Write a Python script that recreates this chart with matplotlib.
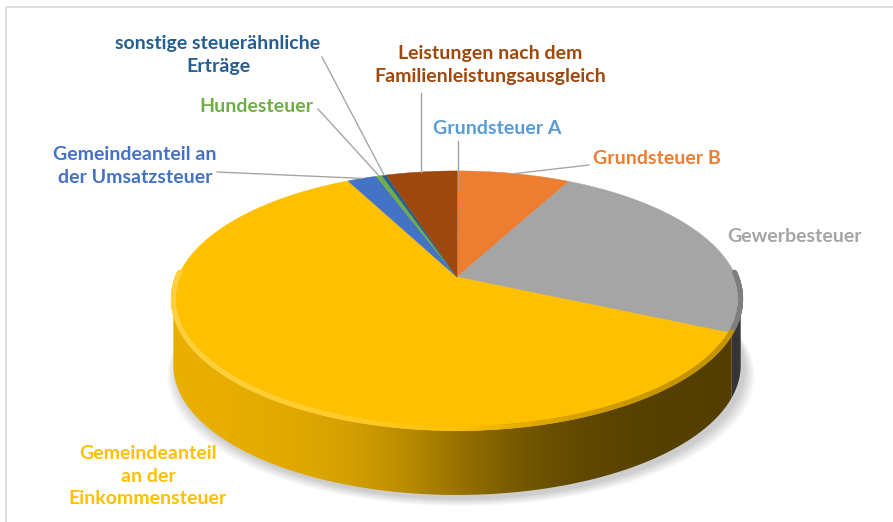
import numpy as np
import matplotlib.pyplot as plt
from matplotlib.patches import Polygon, Rectangle
from matplotlib.collections import LineCollection
from matplotlib.colors import to_rgb

# Data (shares in percent, clockwise from 12 o'clock)
labels = ["Grundsteuer A", "Grundsteuer B", "Gewerbesteuer",
          "Gemeindeanteil\nan der\nEinkommensteuer",
          "Gemeindeanteil an\nder Umsatzsteuer", "Hundesteuer",
          "sonstige steuerähnliche\nErträge",
          "Leistungen nach dem\nFamilienleistungsausgleich"]
shares = [0.1, 7.6, 24.1, 60.7, 2.0, 0.4, 0.3, 4.8]
colors = ["#5B9BD5", "#ED7D31", "#A5A5A5", "#FFC000",
          "#4472C4", "#70AD47", "#255E91", "#9E480E"]

# label placement (pixel coords) and leader line start (None = no leader)
label_pos = [(497, 129), (657, 159), (795, 237), (148, 476),
             (135, 166), (256, 106), (218, 55), (490, 65)]
leader_start = [(None, 141), (589, 165), None, None,
                (217, 172), (318, 109), (322, 57), (None, 93)]

# pie geometry (simple perspective view)
cx, cy = 457, 277
R, tilt, persp, depth = 279, 0.449, 0.181, 65


def proj(theta_deg, dz=0.0):
    t = np.radians(theta_deg)
    u, v = np.sin(t), np.cos(t)
    w = 1.0 / (1.0 + persp * v)
    return cx + R * u * w, cy - R * tilt * v * w + dz


def shade(x):
    return 0.62 - 0.30 * np.tanh((x - 450) / 120.0)


edges = np.concatenate([[0], np.cumsum(shares)]) / sum(shares) * 360
sil = np.degrees(np.arccos(-persp))  # silhouette angle

fig = plt.figure(figsize=(8.93, 5.22), dpi=100)
ax = fig.add_axes([0, 0, 1, 1])
ax.set_xlim(0, 893)
ax.set_ylim(522, 0)
ax.axis("off")

# chart border
ax.add_patch(Rectangle((6, 7), 900, 530, fill=False, ec="#D9D9D9", lw=1.2))

# soft shadow
tt = np.linspace(0, 360, 400)
for k in range(10):
    sx, sy = proj(tt, depth + 4)
    sx = cx + (sx - cx) * (1 + 0.004 * k) + 4
    sy = sy + 0.8 * k
    ax.add_patch(Polygon(np.column_stack([sx, sy]), closed=True,
                         fc="#000000", ec="none", alpha=0.018, zorder=1))

# side wall: gradient image clipped to each wedge's visible side
xgrid = np.arange(0, 894)
for a0, a1, col in zip(edges[:-1], edges[1:], colors):
    lo, hi = max(a0, sil), min(a1, 360 - sil)
    if hi <= lo:
        continue
    ts = np.linspace(lo, hi, max(2, int((hi - lo) * 3)))
    xs, ys = proj(ts)
    pts = np.vstack([np.column_stack([xs, ys]),
                     np.column_stack([xs[::-1], ys[::-1] + depth])])
    patch = Polygon(pts, closed=True, fc="none", ec="none")
    ax.add_patch(patch)
    base = np.array(to_rgb(col))
    row = np.clip(base[None, :] * shade(xgrid)[:, None], 0, 1)
    img = np.repeat(row[None, :, :], 2, axis=0)
    im = ax.imshow(img, extent=(0, 893, 522, 0), aspect="auto",
                   interpolation="bilinear", zorder=2)
    im.set_clip_path(patch)

# top face
for a0, a1, col in zip(edges[:-1], edges[1:], colors):
    ts = np.linspace(a0, a1, max(2, int((a1 - a0) * 2)))
    xs, ys = proj(ts)
    pts = np.vstack([[cx, cy], np.column_stack([xs, ys])])
    ax.add_patch(Polygon(pts, closed=True, fc=col, ec=col, lw=0.3, zorder=3))

# rim bevel on the front edge
segs, scols = [], []
for a0, a1, col in zip(edges[:-1], edges[1:], colors):
    lo, hi = max(a0, sil - 12), min(a1, 360 - sil + 12)
    if hi <= lo:
        continue
    ts = np.linspace(lo, hi, max(2, int((hi - lo) * 4)))
    base = np.array(to_rgb(col))
    for t0, t1 in zip(ts[:-1], ts[1:]):
        x0, y0 = proj(t0, -1.5)
        x1, y1 = proj(t1, -1.5)
        xm = (x0 + x1) / 2
        f = np.tanh((xm - 457) / 150.0)
        c = base * (1 - 0.25 * max(f, 0)) + (1 - base) * 0.25 * max(-f, 0)
        segs.append([(x0, y0), (x1, y1)])
        scols.append(np.clip(c, 0, 1))
ax.add_collection(LineCollection(segs, colors=scols, linewidths=3.5,
                                 capstyle="round", zorder=4))

# labels and leader lines
for i, (lab, col) in enumerate(zip(labels, colors)):
    mid = (edges[i] + edges[i + 1]) / 2
    ax.text(*label_pos[i], lab, color=col, ha="center", va="center",
            fontsize=14, fontweight="bold", family=["Lato", "DejaVu Sans"],
            linespacing=1.4, zorder=6)
    if leader_start[i] is not None:
        ex, ey = proj(mid)
        sx, sy = leader_start[i]
        if sx is None:
            sx = ex
        ax.plot([sx, ex], [sy, ey], color="#A6A6A6", lw=1.0, zorder=5)

fig.savefig("out.png", dpi=100)
